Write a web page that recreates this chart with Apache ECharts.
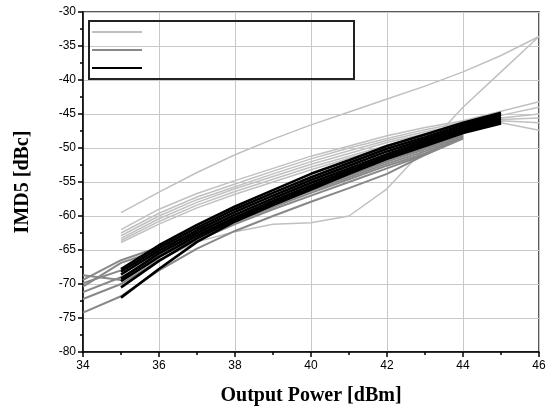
<!DOCTYPE html>
<html>
<head>
<meta charset="utf-8">
<script src="https://cdn.jsdelivr.net/npm/echarts@6/dist/echarts.min.js"></script>
<style>
  html, body { margin: 0; padding: 0; background: #fff; }
  #main { width: 554px; height: 411px; }
</style>
</head>
<body>
<div id="main"></div>
<script>
// x positions (dBm) for each group of sweeps
const xGray = [34, 35, 36, 37, 38, 39, 40, 41, 42, 43, 44]
const xBlack = [35, 36, 37, 38, 39, 40, 41, 42, 43, 44, 45]
const xLight = [35, 36, 37, 38, 39, 40, 41, 42, 43, 44, 45, 46]

const xTicks = [34, 36, 38, 40, 42, 44, 46]
const yTicks = [-80, -75, -70, -65, -60, -55, -50, -45, -40, -35, -30]

// IMD5 [dBc]
const lightCurves = [
  [-59.5, -56.5, -53.6, -51.0, -48.7, -46.6, -44.7, -42.8, -40.9, -38.8, -36.4, -33.6],
  [-69.0, -66.5, -63.8, -62.3, -61.2, -61.0, -60.0, -56.0, -50.0, -44.0, -38.8, -33.6],
  [-62.0, -59.0, -56.7, -54.8, -53.0, -51.2, -49.7, -48.2, -47.0, -46.0, -44.6, -43.2],
  [-62.5, -59.6, -57.2, -55.3, -53.4, -51.6, -50.0, -48.6, -47.3, -46.2, -45.2, -44.0],
  [-62.9, -60.0, -57.6, -55.7, -53.8, -52.0, -50.4, -48.9, -47.6, -46.5, -45.6, -45.0],
  [-63.3, -60.4, -58.0, -56.0, -54.2, -52.4, -50.8, -49.2, -47.9, -46.8, -45.8, -45.6],
  [-63.6, -60.8, -58.4, -56.4, -54.6, -52.8, -51.2, -49.6, -48.2, -47.0, -46.0, -46.3],
  [-63.9, -61.2, -58.8, -56.8, -55.0, -53.2, -51.5, -49.9, -48.5, -47.2, -46.3, -47.4]
]
const grayCurves = [
  [-68.7, -69.4, -65.8, -62.8, -60.2, -58.0, -55.8, -53.8, -51.8, -50.0, -47.8],
  [-69.4, -66.5, -64.6, -62.4, -60.0, -57.8, -55.6, -53.6, -51.6, -49.8, -47.6],
  [-69.9, -68.0, -65.4, -62.8, -60.4, -58.2, -56.0, -54.0, -52.0, -50.2, -48.0],
  [-70.4, -66.9, -65.0, -62.9, -60.6, -58.4, -56.3, -54.3, -52.3, -50.5, -48.2],
  [-71.2, -69.0, -66.0, -63.3, -60.9, -58.7, -56.6, -54.6, -52.6, -50.8, -48.4],
  [-72.2, -70.0, -66.5, -63.6, -61.2, -59.0, -57.0, -55.0, -53.0, -51.0, -48.6],
  [-74.2, -71.8, -68.0, -64.8, -62.2, -60.0, -57.9, -55.9, -53.8, -51.0, -48.4]
]
const blackCurves = [
  [-67.8, -64.3, -61.3, -58.6, -56.2, -53.8, -51.8, -49.7, -48.0, -46.3, -44.8],
  [-68.2, -64.7, -61.7, -59.0, -56.6, -54.3, -52.2, -50.1, -48.4, -46.6, -45.1],
  [-68.6, -65.1, -62.1, -59.4, -57.0, -54.7, -52.6, -50.5, -48.7, -46.9, -45.4],
  [-69.2, -65.5, -62.5, -59.8, -57.4, -55.1, -53.0, -50.9, -49.0, -47.2, -45.7],
  [-69.6, -66.0, -62.9, -60.2, -57.8, -55.5, -53.3, -51.2, -49.3, -47.4, -46.0],
  [-70.5, -66.6, -63.3, -60.5, -58.1, -55.8, -53.6, -51.4, -49.5, -47.6, -46.2],
  [-72.0, -67.8, -63.8, -60.8, -58.4, -56.1, -53.8, -51.6, -49.7, -47.8, -46.4]
]

const groups = [
  { name: 'light', xs: xLight, curves: lightCurves, color: '#c0c0c0', width: 1.5 },
  { name: 'gray', xs: xGray, curves: grayCurves, color: '#888888', width: 2 },
  { name: 'black', xs: xBlack, curves: blackCurves, color: '#000000', width: 2.6 }
]

const series = []
groups.forEach(g => {
  g.curves.forEach(ys => {
    series.push({
      name: g.name,
      type: 'line',
      showSymbol: false,
      silent: true,
      color: g.color,
      lineStyle: { color: g.color, width: g.width },
      data: ys.map((y, i) => [g.xs[i], y])
    })
  })
})

const labelFont = { color: '#000', fontFamily: 'Liberation Sans', fontSize: 12 }
const nameFont = { color: '#000', fontFamily: 'Liberation Serif', fontSize: 20, fontWeight: 'bold' }

const chart = echarts.init(document.getElementById('main'))
chart.setOption({
  animation: false,
  grid: {
    left: 83, right: 15, top: 12, bottom: 59,
    show: true, borderColor: '#222', borderWidth: 1.5
  },
  legend: {
    data: ['light', 'gray', 'black'],
    orient: 'vertical',
    left: 89, top: 21,
    icon: 'rect',
    itemWidth: 50, itemHeight: 2, itemGap: 16,
    formatter: () => '',
    padding: [10, 212, 10, 3],
    borderColor: '#222', borderWidth: 2,
    selectedMode: false
  },
  xAxis: {
    type: 'value',
    min: 34, max: 46, interval: 2,
    name: 'Output Power [dBm]',
    nameLocation: 'middle', nameGap: 34,
    nameTextStyle: nameFont,
    axisLine: { lineStyle: { color: '#000', width: 1.5 } },
    axisTick: { length: 5, lineStyle: { color: '#000', width: 1.5 } },
    minorTick: { show: true, splitNumber: 2, length: 3, lineStyle: { color: '#000', width: 1.5 } },
    axisLabel: Object.assign({ margin: 8, formatter: v => xTicks.includes(v) ? String(v) : '' }, labelFont),
    splitLine: { show: true, lineStyle: { color: '#c8c8c8', width: 1 } }
  },
  yAxis: {
    type: 'value',
    min: -80, max: -30, interval: 5,
    name: 'IMD5 [dBc]',
    nameLocation: 'middle', nameGap: 50,
    nameTextStyle: nameFont,
    axisLine: { lineStyle: { color: '#000', width: 1.5 } },
    axisTick: { length: 5, lineStyle: { color: '#000', width: 1.5 } },
    minorTick: { show: true, splitNumber: 2, length: 3, lineStyle: { color: '#000', width: 1.5 } },
    axisLabel: Object.assign({ margin: 7, formatter: v => yTicks.includes(v) ? String(v) : '' }, labelFont),
    splitLine: { show: true, lineStyle: { color: '#c8c8c8', width: 1 } }
  },
  series: series
})
</script>
</body>
</html>
